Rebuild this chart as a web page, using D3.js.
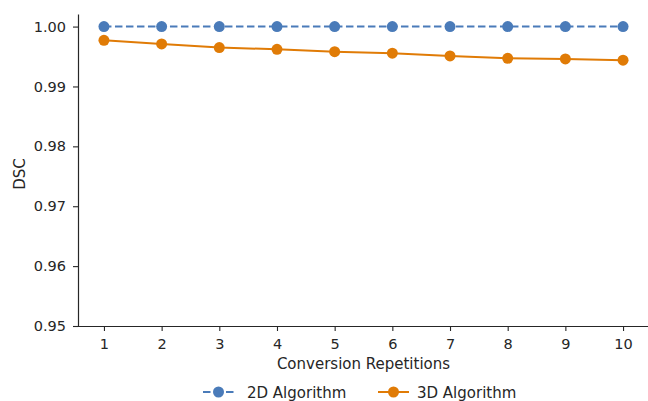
<!DOCTYPE html>
<html><head><meta charset="utf-8">
<script src="https://cdn.jsdelivr.net/npm/d3@7"></script>
<style>body{margin:0;background:#fff}svg{display:block}text{font-family:"DejaVu Sans",sans-serif;fill:#262626}</style>
</head><body><svg id="c" width="648" height="401"></svg>
<script>
const repetitions = [1,2,3,4,5,6,7,8,9,10];
const dsc2D = [1.0,1.0,1.0,1.0,1.0,1.0,1.0,1.0,1.0,1.0];
const dsc3D = [0.9977,0.9971,0.9965,0.9962,0.9958,0.99555,0.9951,0.9947,0.9946,0.99438];
const yTicks = [0.95,0.96,0.97,0.98,0.99,1.00];
const seriesNames = ["2D Algorithm","3D Algorithm"];
const colors = ["#4a7bb9","#e07b06"];

const svg = d3.select("#c");
const x = d3.scaleLinear().domain([0.55,10.45]).range([78,649]);
const y = d3.scaleLinear().domain([0.95,1.002]).range([326,14.6]);
const axisColor = "#262626";

const gx = svg.append("g").attr("transform","translate(0,326)")
  .call(d3.axisBottom(x).tickValues(repetitions).tickFormat(d3.format("d")).tickSize(5).tickPadding(7.5));
const gy = svg.append("g").attr("transform","translate(78,0)")
  .call(d3.axisLeft(y).tickValues(yTicks).tickFormat(d3.format(".2f")).tickSize(5).tickPadding(7));
[gx,gy].forEach(g=>{
  g.selectAll("path").attr("stroke",axisColor).attr("stroke-width",1.2);
  g.selectAll("line").attr("stroke",axisColor).attr("stroke-width",1.1);
  g.selectAll("text").attr("font-size",14.5).attr("font-family","DejaVu Sans").attr("fill",axisColor);
});
gx.select("path").attr("d","M78,0.5H649");
gy.select("path").attr("d","M0.5,14.6V326");

svg.append("text").attr("x",363.5).attr("y",368.5).attr("text-anchor","middle").attr("font-size",15).text("Conversion Repetitions");
svg.append("text").attr("transform","translate(24.5,174) rotate(-90)").attr("text-anchor","middle").attr("font-size",15).text("DSC");

const data = [dsc2D, dsc3D];
const line = d3.line().x((d,i)=>x(repetitions[i])).y(d=>y(d));
data.forEach((vals,k)=>{
  svg.append("path").datum(vals).attr("d",line).attr("fill","none")
    .attr("stroke",colors[k]).attr("stroke-width",2)
    .attr("stroke-dasharray",k===0?"7.5,3.5":null);
  svg.selectAll(null).data(vals).enter().append("circle")
    .attr("cx",(d,i)=>x(repetitions[i])).attr("cy",d=>y(d)).attr("r",5.5).attr("fill",colors[k]);
});

// legend
const leg = svg.append("g");
const legItems = [{x0:203,tx:247},{x0:378,tx:417}];
legItems.forEach((p,k)=>{
  const ly = 392;
  leg.append("line").attr("x1",p.x0).attr("x2",p.x0+31).attr("y1",ly).attr("y2",ly)
    .attr("stroke",colors[k]).attr("stroke-width",2).attr("stroke-dasharray",k===0?"7.5,4":null);
  leg.append("circle").attr("cx",p.x0+15.5).attr("cy",ly).attr("r",5.5).attr("fill",colors[k]);
  leg.append("text").attr("x",p.tx).attr("y",ly+5.5).attr("font-size",15).text(seriesNames[k]);
});
</script></body></html>
